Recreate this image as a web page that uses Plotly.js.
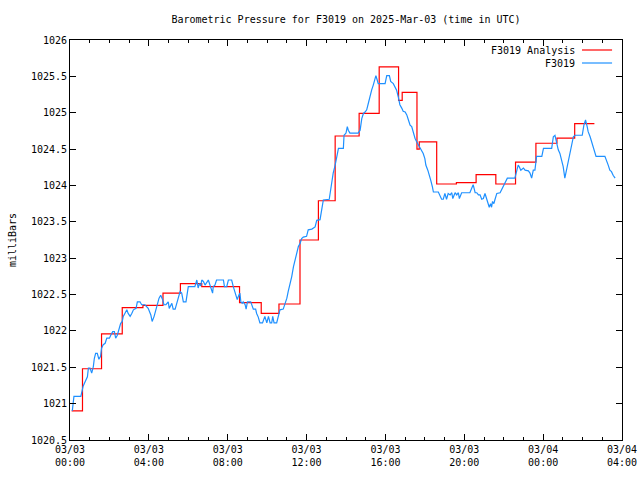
<!DOCTYPE html>
<html>
<head>
<meta charset="utf-8">
<script src="https://cdn.plot.ly/plotly-3.0.1.min.js"></script>
<style>html,body{margin:0;padding:0;background:#fff;}#chart{width:640px;height:480px;}</style>
</head>
<body>
<div id="chart"></div>
<script>
// Analysis (step) series: minutes after 2025-03-03 00:00 UTC where each step begins, and value
var analysisMinutes = [5, 38, 96, 159, 222, 283, 336, 401, 516, 582, 636, 700, 756, 807, 880, 941, 1000, 1011, 1056, 1063, 1116, 1176, 1236, 1296, 1356, 1418, 1482, 1536, 1596];
var analysisValues  = [1020.90, 1021.48, 1021.96, 1022.32, 1022.35, 1022.52, 1022.65, 1022.61, 1022.39, 1022.24, 1022.37, 1023.25, 1023.79, 1024.68, 1024.99, 1025.63, 1025.17, 1025.28, 1024.50, 1024.60, 1024.02, 1024.04, 1024.15, 1024.02, 1024.32, 1024.58, 1024.65, 1024.85, 1024.85];

// Station observations: minutes after 2025-03-03 00:00 UTC, and value
var obsMinutes = [7,10,12,33,36,40,46,53,56,61,66,71,74,78,83,88,93,96,101,107,112,120,124,130,135,139,144,149,154,159,162,167,173,177,183,188,193,201,205,213,218,228,238,246,250,256,261,266,271,276,282,286,292,299,302,310,314,320,325,330,335,340,345,353,357,360,380,386,390,394,398,401,406,411,421,426,431,434,436,441,446,467,470,477,482,492,497,502,505,509,512,517,520,524,527,533,536,540,550,558,565,568,573,578,586,593,599,604,609,614,617,621,629,634,639,649,654,660,664,670,675,680,685,690,695,700,705,710,720,725,736,746,751,761,766,771,789,793,797,801,807,812,817,832,834,840,844,847,852,877,883,888,893,898,903,908,913,918,923,928,931,935,938,959,964,972,976,984,989,994,999,1004,1010,1014,1020,1025,1030,1035,1040,1045,1050,1055,1060,1065,1070,1075,1080,1083,1089,1094,1098,1103,1106,1121,1126,1131,1136,1141,1146,1151,1157,1162,1165,1172,1177,1182,1185,1192,1217,1222,1227,1233,1238,1243,1248,1253,1258,1263,1268,1273,1276,1280,1283,1286,1290,1293,1299,1309,1314,1319,1324,1331,1354,1357,1361,1364,1367,1372,1380,1385,1395,1400,1405,1410,1415,1420,1436,1441,1466,1471,1476,1481,1486,1491,1496,1501,1506,1511,1517,1522,1527,1532,1537,1559,1564,1569,1574,1577,1583,1588,1593,1598,1601,1628,1633,1638,1643,1648,1653,1659];
var obsValues = [1020.90,1021.05,1021.10,1021.10,1021.16,1021.24,1021.30,1021.37,1021.49,1021.49,1021.42,1021.51,1021.62,1021.69,1021.69,1021.61,1021.65,1021.76,1021.81,1021.83,1021.90,1021.90,1021.94,1021.99,1021.99,1021.90,1021.94,1022.04,1022.10,1022.13,1022.20,1022.24,1022.29,1022.24,1022.20,1022.24,1022.29,1022.31,1022.40,1022.40,1022.36,1022.36,1022.31,1022.22,1022.13,1022.20,1022.29,1022.36,1022.45,1022.49,1022.43,1022.36,1022.36,1022.40,1022.31,1022.38,1022.30,1022.30,1022.38,1022.47,1022.54,1022.52,1022.40,1022.40,1022.52,1022.61,1022.61,1022.70,1022.59,1022.65,1022.62,1022.70,1022.68,1022.63,1022.70,1022.62,1022.56,1022.52,1022.61,1022.63,1022.70,1022.70,1022.61,1022.61,1022.70,1022.70,1022.61,1022.54,1022.47,1022.43,1022.47,1022.52,1022.40,1022.38,1022.40,1022.36,1022.30,1022.40,1022.40,1022.30,1022.30,1022.24,1022.19,1022.11,1022.11,1022.20,1022.11,1022.20,1022.11,1022.11,1022.20,1022.11,1022.11,1022.22,1022.29,1022.30,1022.36,1022.45,1022.54,1022.65,1022.75,1022.88,1022.97,1023.07,1023.16,1023.20,1023.27,1023.29,1023.30,1023.39,1023.40,1023.43,1023.52,1023.53,1023.64,1023.80,1023.81,1023.94,1024.08,1024.17,1024.28,1024.42,1024.51,1024.51,1024.69,1024.72,1024.81,1024.76,1024.72,1024.72,1024.76,1024.92,1024.99,1025.01,1025.04,1025.13,1025.24,1025.31,1025.38,1025.45,1025.51,1025.45,1025.40,1025.40,1025.51,1025.51,1025.43,1025.40,1025.36,1025.31,1025.22,1025.11,1025.06,1025.02,1025.01,1024.97,1024.90,1024.83,1024.81,1024.72,1024.65,1024.60,1024.56,1024.53,1024.49,1024.44,1024.37,1024.28,1024.21,1024.14,1024.07,1023.98,1023.91,1023.91,1023.85,1023.81,1023.81,1023.89,1023.81,1023.89,1023.87,1023.90,1023.82,1023.90,1023.87,1023.90,1023.82,1023.90,1023.90,1023.95,1024.01,1023.90,1023.90,1023.87,1023.87,1023.81,1023.82,1023.89,1023.81,1023.75,1023.70,1023.75,1023.70,1023.78,1023.75,1023.80,1023.89,1023.90,1023.95,1023.98,1024.03,1024.10,1024.10,1024.17,1024.24,1024.28,1024.26,1024.21,1024.24,1024.21,1024.20,1024.17,1024.10,1024.21,1024.21,1024.40,1024.40,1024.51,1024.51,1024.67,1024.69,1024.58,1024.49,1024.44,1024.35,1024.26,1024.10,1024.21,1024.35,1024.49,1024.58,1024.67,1024.69,1024.69,1024.83,1024.90,1024.81,1024.74,1024.67,1024.60,1024.51,1024.46,1024.40,1024.40,1024.35,1024.28,1024.21,1024.19,1024.14,1024.10];

var seriesNames = ['F3019 Analysis', 'F3019'];
var seriesColors = ['#ff0000', '#1e90ff'];
var startUTC = Date.UTC(2025, 2, 3, 0, 0);

function toDate(m) {
  return new Date(startUTC + m * 60000).toISOString().slice(0, 16).replace('T', ' ');
}

var font = {family: 'DejaVu Sans Mono, Liberation Mono, monospace', size: 10, color: '#000'};

var traces = [
  {x: analysisMinutes.map(toDate), y: analysisValues, type: 'scatter', mode: 'lines',
   line: {color: seriesColors[0], width: 1.2, shape: 'hv'}, name: seriesNames[0], showlegend: false},
  {x: obsMinutes.map(toDate), y: obsValues, type: 'scatter', mode: 'lines',
   line: {color: seriesColors[1], width: 1.2}, name: seriesNames[1], showlegend: false}
];

var legY = [0.975, 0.9425];
var annotations = [];
var shapes = [];
for (var i = 0; i < seriesNames.length; i++) {
  annotations.push({xref: 'paper', yref: 'paper', x: 0.9185, y: legY[i], xanchor: 'right', yanchor: 'middle',
    text: seriesNames[i], showarrow: false, font: font});
  shapes.push({type: 'line', xref: 'paper', yref: 'paper', x0: 0.9275, x1: 0.982, y0: legY[i], y1: legY[i],
    line: {color: seriesColors[i], width: 1.2}});
}

var layout = {
  width: 640, height: 480,
  margin: {l: 70, r: 18, t: 40, b: 40},
  paper_bgcolor: '#fff', plot_bgcolor: '#fff',
  font: font,
  title: {text: 'Barometric Pressure for F3019 on 2025-Mar-03 (time in UTC)', font: font,
          x: 0.5, xref: 'paper', xanchor: 'center', y: 0.96, yref: 'container', yanchor: 'middle'},
  showlegend: false,
  xaxis: {
    type: 'date',
    range: [toDate(0), toDate(28 * 60)],
    tick0: toDate(0), dtick: 4 * 3600000,
    tickformat: '%m/%d<br>%H:%M',
    ticks: 'inside', ticklen: 6, tickcolor: '#000', tickwidth: 1,
    minor: {dtick: 3600000, ticks: 'inside', ticklen: 3, tickcolor: '#000', showgrid: false},
    showline: true, linecolor: '#000', linewidth: 1, mirror: 'allticks',
    showgrid: false, zeroline: false, tickfont: font, fixedrange: true
  },
  yaxis: {
    range: [1020.5, 1026], dtick: 0.5, tick0: 1020.5,
    tickformat: '.1~f',
    ticks: 'inside', ticklen: 6, tickcolor: '#000', tickwidth: 1,
    showline: true, linecolor: '#000', linewidth: 1, mirror: 'allticks',
    showgrid: false, zeroline: false, tickfont: font,
    title: {text: 'milliBars', font: font, standoff: 12}, fixedrange: true
  },
  annotations: annotations,
  shapes: shapes
};

Plotly.newPlot('chart', traces, layout, {staticPlot: true, displayModeBar: false});
</script>
</body>
</html>
